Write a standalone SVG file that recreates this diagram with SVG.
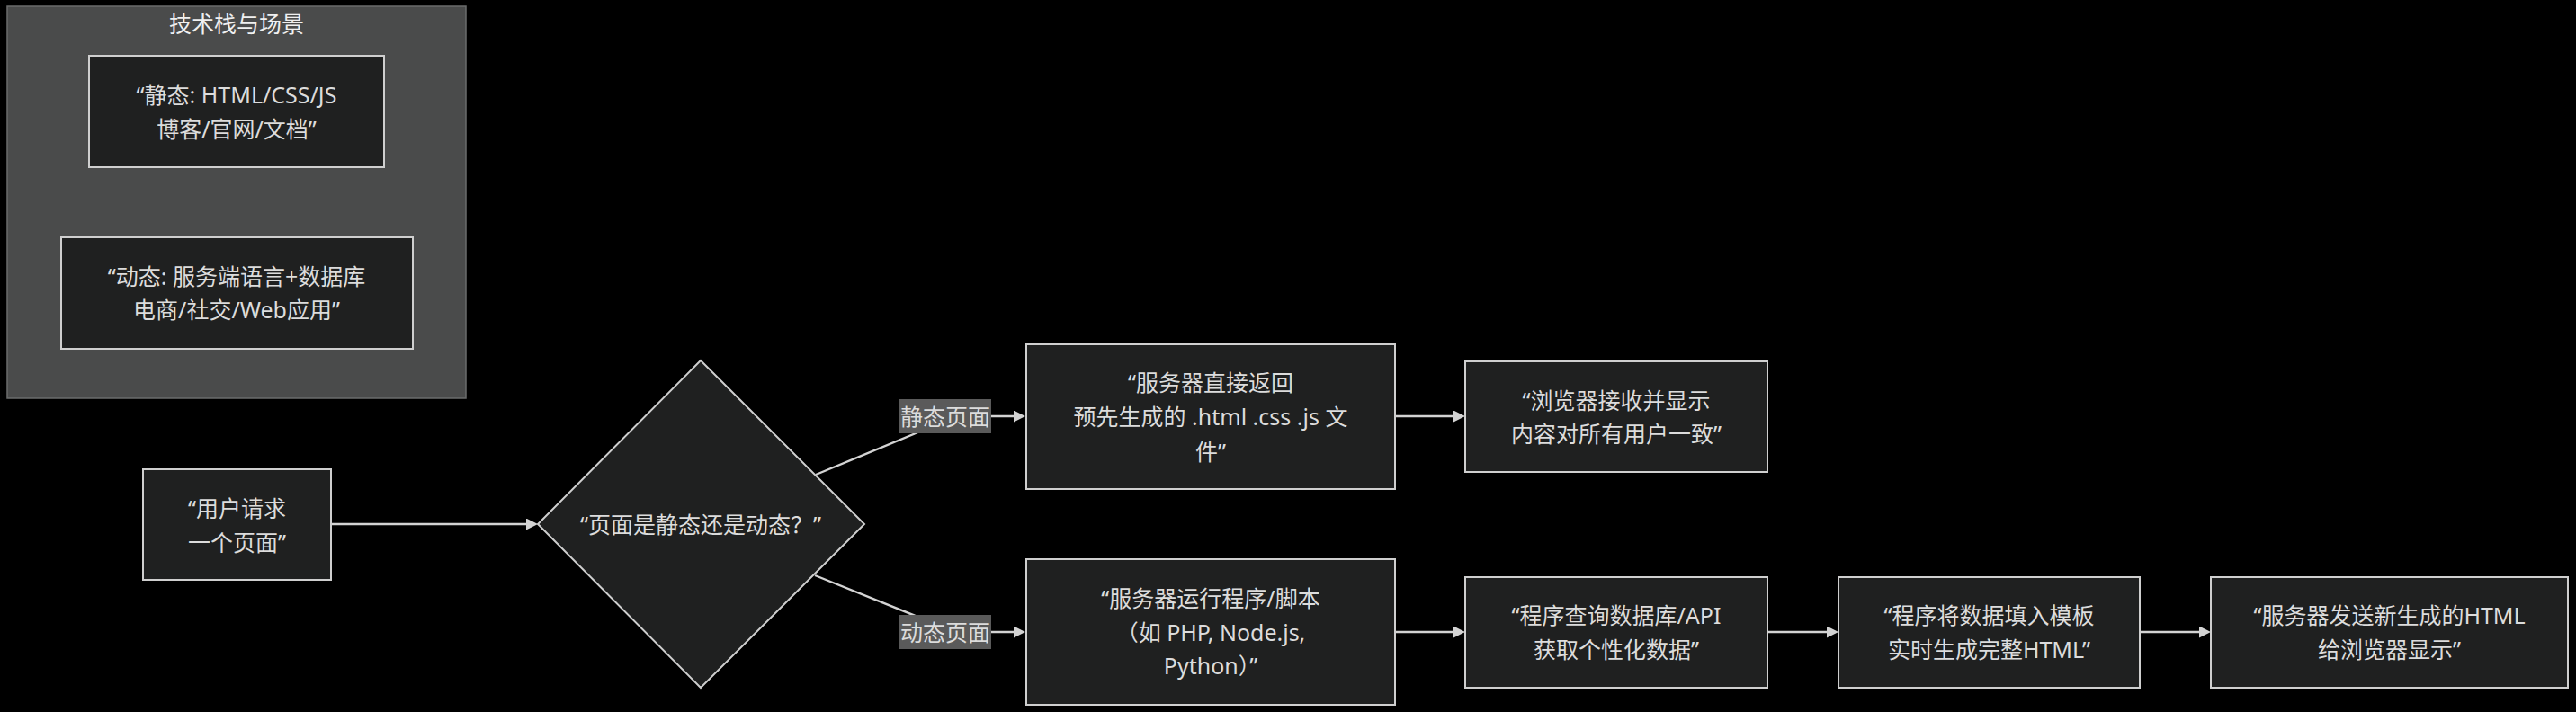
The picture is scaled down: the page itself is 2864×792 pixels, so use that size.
<svg xmlns="http://www.w3.org/2000/svg" width="2864" height="792" viewBox="0 0 2864 792">
<defs>
<style>
.bg{fill:#000000}
.cluster{fill:#4a4b4b;stroke:#6b6c6c;stroke-width:1.5}
.node{fill:#1f2020;stroke:#cfcfcf;stroke-width:2}
.t{font-family:"Noto Sans","Noto Sans CJK SC",sans-serif;font-size:25px;fill:#dcdcdc;text-anchor:middle;dominant-baseline:central}
.title{font-family:"Noto Sans","Noto Sans CJK SC",sans-serif;font-size:25px;fill:#f0f0f0;text-anchor:middle;dominant-baseline:central}
.edge{fill:none;stroke:#d3d3d3;stroke-width:2.4}
.lblbg{fill:#5a5a5a}
.lbl{font-family:"Noto Sans","Noto Sans CJK SC",sans-serif;font-size:25px;fill:#dcdcdc;text-anchor:middle;dominant-baseline:central}
</style>
<marker id="arrow" markerUnits="userSpaceOnUse" markerWidth="14" markerHeight="14" refX="9" refY="6.5" orient="auto">
<path d="M0,0 L13,6.5 L0,13 z" fill="#d3d3d3"/>
</marker>
</defs>
<rect class="bg" x="0" y="0" width="2864" height="792"/>

<g id="cluster-tech">
<rect class="cluster" x="8" y="7" width="510" height="436"/>
<text class="title" x="263" y="26">技术栈与场景</text>
</g>
<g id="node-static">
<rect class="node" x="99" y="62" width="328" height="124"/>
<text class="t" x="263" y="105">“静态: HTML/CSS/JS</text>
<text class="t" x="263" y="143">博客/官网/文档”</text>
</g>
<g id="node-dynamic">
<rect class="node" x="68" y="264" width="391" height="124"/>
<text class="t" x="263" y="307">“动态: 服务端语言+数据库</text>
<text class="t" x="263" y="344">电商/社交/Web应用”</text>
</g>

<g id="connectors">
<path class="edge" d="M368,583 L594,583" marker-end="url(#arrow)"/>
<path class="edge" d="M907,528 L1030,477 Q1050,463 1070,463 L1136,463" marker-end="url(#arrow)"/>
<path class="edge" d="M906,640 L1030,690 Q1050,703 1070,703 L1136,703" marker-end="url(#arrow)"/>
<path class="edge" d="M1551,463 L1625,463" marker-end="url(#arrow)"/>
<path class="edge" d="M1551,703 L1625,703" marker-end="url(#arrow)"/>
<path class="edge" d="M1965,703 L2040,703" marker-end="url(#arrow)"/>
<path class="edge" d="M2379,703 L2454,703" marker-end="url(#arrow)"/>
<g id="label-static">
<rect class="lblbg" x="1000" y="444" width="102" height="38"/>
<text class="lbl" x="1051" y="463">静态页面</text>
</g>
<g id="label-dynamic">
<rect class="lblbg" x="1000" y="684" width="102" height="38"/>
<text class="lbl" x="1051" y="703">动态页面</text>
</g>
</g>

<g id="node-request">
<rect class="node" x="159" y="522" width="209" height="123"/>
<text class="t" x="263.5" y="565">“用户请求</text>
<text class="t" x="263.5" y="603">一个页面”</text>
</g>
<g id="node-decision">
<polygon class="node" points="779,401 961,583 779,765 598,583"/>
<text class="t" x="779" y="583">“页面是静态还是动态？”</text>
</g>
<g id="node-static-return">
<rect class="node" x="1141" y="383" width="410" height="161"/>
<text class="t" x="1346" y="425">“服务器直接返回</text>
<text class="t" x="1346" y="463">预先生成的 .html .css .js 文</text>
<text class="t" x="1346" y="502">件”</text>
</g>
<g id="node-browser-show">
<rect class="node" x="1629" y="402" width="336" height="123"/>
<text class="t" x="1797" y="445">“浏览器接收并显示</text>
<text class="t" x="1797" y="482">内容对所有用户一致”</text>
</g>
<g id="node-run-script">
<rect class="node" x="1141" y="622" width="410" height="162"/>
<text class="t" x="1346" y="665">“服务器运行程序/脚本</text>
<text class="t" x="1346" y="703">（如 PHP, Node.js,</text>
<text class="t" x="1346" y="740">Python）”</text>
</g>
<g id="node-query">
<rect class="node" x="1629" y="642" width="336" height="123"/>
<text class="t" x="1797" y="684">“程序查询数据库/API</text>
<text class="t" x="1797" y="722">获取个性化数据”</text>
</g>
<g id="node-template">
<rect class="node" x="2044" y="642" width="335" height="123"/>
<text class="t" x="2211.5" y="684">“程序将数据填入模板</text>
<text class="t" x="2211.5" y="722">实时生成完整HTML”</text>
</g>
<g id="node-send">
<rect class="node" x="2458" y="642" width="397" height="123"/>
<text class="t" x="2656.5" y="684">“服务器发送新生成的HTML</text>
<text class="t" x="2656.5" y="722">给浏览器显示”</text>
</g>
</svg>
